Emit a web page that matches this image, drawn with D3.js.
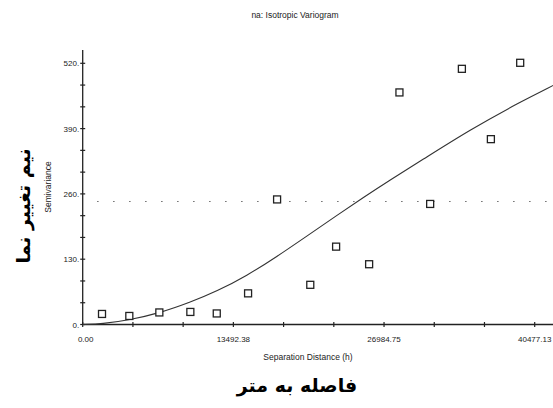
<!DOCTYPE html>
<html>
<head>
<meta charset="utf-8">
<script src="https://cdn.jsdelivr.net/npm/d3@7"></script>
<style>
html,body{margin:0;padding:0;background:#fff;}
svg{display:block;}
</style>
</head>
<body>
<svg id="chart" width="553" height="408"></svg>
<script>
// Data
const lagDistance = [1729, 4175, 6863, 9640, 12005, 14810, 17408, 20380, 22693, 25650, 28365, 31115, 33956, 36553, 39178];
const semivariance = [21, 17, 24, 25, 22, 62, 249, 79, 155, 120, 462, 240, 509, 369, 521];
const modelDistance = [0, 1729, 4175, 6925, 9613, 12005, 14693, 17380, 20068, 22756, 25139, 27531, 30219, 34699, 39178, 42134];
const modelValue = [0, 1, 9, 23, 44, 66, 97, 135, 176, 217, 253, 288, 325, 388, 443, 476];
const sampleVariance = [245];
const yTickValues = [0, 130, 260, 390, 520];
const yTickLabels = ["0.", "130.", "260.", "390.", "520."];
const xTickValues = [0, 13492.38, 26984.75, 40477.13];
const xTickLabels = ["0.00", "13492.38", "26984.75", "40477.13"];

const svg = d3.select("#chart");
const font = "Liberation Sans, Arial, sans-serif";

const x = d3.scaleLinear().domain([0, 40477.13]).range([82.7, 534.7]);
const y = d3.scaleLinear().domain([0, 520]).range([324.5, 63.3]);
const xMax = x.invert(553);
const yMax = y.invert(50);

// Title
svg.append("text").attr("x", 295).attr("y", 18).attr("text-anchor", "middle")
  .attr("font-family", font).attr("font-size", 8.5).attr("fill", "#222")
  .text("na: Isotropic Variogram");

// Axis lines
svg.append("line").attr("x1", x(0)).attr("x2", x(0)).attr("y1", y(yMax)).attr("y2", y(0))
  .attr("stroke", "#222").attr("stroke-width", 1.3);
svg.append("line").attr("x1", x(0)).attr("x2", 553).attr("y1", y(0)).attr("y2", y(0))
  .attr("stroke", "#222").attr("stroke-width", 1.3);

// Y ticks (minor every 1/3 of major)
const yMinor = d3.range(0, yMax, 130 / 3);
svg.append("g").selectAll("line").data(yMinor).join("line")
  .attr("x1", x(0) - 2.5).attr("x2", x(0) + 2.5)
  .attr("y1", d => y(d)).attr("y2", d => y(d))
  .attr("stroke", "#222").attr("stroke-width", 1.2);
svg.append("g").selectAll("text").data(yTickValues).join("text")
  .attr("x", x(0) - 3.5).attr("y", d => y(d) + 3)
  .attr("text-anchor", "end").attr("font-family", font).attr("font-size", 8).attr("fill", "#222")
  .text((d, i) => yTickLabels[i]);

// X ticks
const xMinor = d3.range(0, xMax, 13492.38 / 3);
svg.append("g").selectAll("line").data(xMinor).join("line")
  .attr("x1", d => x(d)).attr("x2", d => x(d))
  .attr("y1", y(0) - 2.5).attr("y2", y(0) + 2.5)
  .attr("stroke", "#222").attr("stroke-width", 1.2);
svg.append("g").selectAll("text").data(xTickValues).join("text")
  .attr("x", d => x(d) + (d === 0 ? 3 : 0)).attr("y", y(0) + 17)
  .attr("text-anchor", "middle").attr("font-family", font).attr("font-size", 8).attr("fill", "#222")
  .text((d, i) => xTickLabels[i]);

// Sample variance dotted line
svg.append("g").selectAll("line").data(sampleVariance).join("line")
  .attr("x1", x(1300)).attr("x2", 553)
  .attr("y1", d => y(d)).attr("y2", d => y(d))
  .attr("stroke", "#555").attr("stroke-width", 1.1)
  .attr("stroke-dasharray", "1.3,14.7");

// Model curve
const modelPts = modelDistance.map((d, i) => [d, modelValue[i]]);
svg.append("path").datum(modelPts)
  .attr("d", d3.line().x(d => x(d[0])).y(d => y(d[1])).curve(d3.curveBasis))
  .attr("fill", "none").attr("stroke", "#333").attr("stroke-width", 1.1);

// Points
const pts = lagDistance.map((d, i) => [d, semivariance[i]]);
svg.append("g").selectAll("rect").data(pts).join("rect")
  .attr("x", d => x(d[0]) - 3.5).attr("y", d => y(d[1]) - 3.5)
  .attr("width", 7).attr("height", 7)
  .attr("fill", "#fff").attr("stroke", "#222").attr("stroke-width", 1.3);

// Axis titles
svg.append("text").attr("x", 308).attr("y", 360).attr("text-anchor", "middle")
  .attr("font-family", font).attr("font-size", 8.5).attr("fill", "#222")
  .text("Separation Distance (h)");
svg.append("text").attr("transform", "translate(51,187) rotate(-90)").attr("text-anchor", "middle")
  .attr("font-family", font).attr("font-size", 8.5).attr("fill", "#222")
  .text("Semivariance");

// Persian labels
svg.append("text").attr("x", 297).attr("y", 392).attr("text-anchor", "middle")
  .attr("font-family", "DejaVu Sans, sans-serif").attr("font-size", 19).attr("font-weight", "bold").attr("fill", "#000")
  .attr("direction", "rtl")
  .text("فاصله به متر");
svg.append("text").attr("transform", "translate(30,206) rotate(-90)").attr("text-anchor", "middle")
  .attr("font-family", "DejaVu Sans, sans-serif").attr("font-size", 19).attr("font-weight", "bold").attr("fill", "#000")
  .attr("direction", "rtl")
  .text("نیم تغییر نما");
</script>
</body>
</html>
